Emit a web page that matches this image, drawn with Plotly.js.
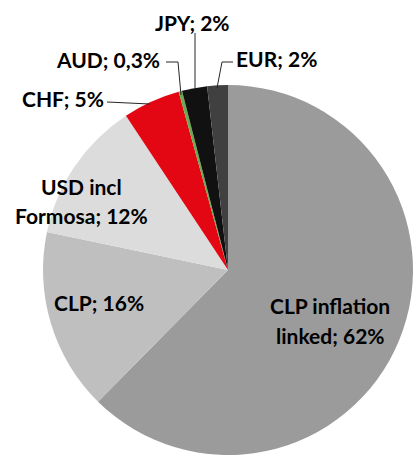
<!DOCTYPE html>
<html>
<head>
<meta charset="utf-8">
<script src="https://cdn.plot.ly/plotly-3.0.1.min.js"></script>
<style>html,body{margin:0;padding:0;background:#fff;}#chart{width:413px;height:456px;}</style>
</head>
<body>
<div id="chart"></div>
<script>
// Data (clockwise from 12 o'clock)
var currencies = ['CLP inflation linked', 'CLP', 'USD incl Formosa', 'CHF', 'AUD', 'JPY', 'EUR'];
var shares = [62.4, 15.9, 12.4, 5.0, 0.3, 2.2, 1.8];
var sliceColors = ['#9b9b9b', '#bfbfbf', '#dcdcdc', '#e30613', '#6aaa50', '#111111', '#404040'];

// Layout helpers (pixel positions of labels, not data)
var W = 413, H = 456;
function px(x) { return x / W; }
function py(y) { return 1 - y / H; }

function pctText(v) {
  if (v < 1) return v.toFixed(1).replace('.', ',') + '%';
  return Math.round(v) + '%';
}
function labelLines(name, v) {
  var words = name.split(' ');
  var full = name + '; ' + pctText(v);
  if (words.length >= 3) {
    var last = words.pop();
    return [words.join(' '), last + '; ' + pctText(v)];
  }
  return [full];
}

// label centre positions (pixels) per slice, and leader line paths
var labelPos = [
  {x: 330, y: [305, 335]},
  {x: 99, y: [302]},
  {x: 81, y: [186, 215]},
  {x: 63, y: [99]},
  {x: 108, y: [60]},
  {x: 192, y: [22]},
  {x: 276, y: [58]}
];
var leaders = [
  null, null, null,
  [[107, 102], [150, 104]],
  [[166, 62], [178, 62], [181, 95]],
  [[195, 33], [195, 89]],
  [[233, 62], [222, 62], [217, 88]]
];

var annotations = [];
var shapes = [];
currencies.forEach(function (c, i) {
  var lines = labelLines(c, shares[i]);
  lines.forEach(function (t, k) {
    annotations.push({
      xref: 'paper', yref: 'paper',
      x: px(labelPos[i].x), y: py(labelPos[i].y[k]),
      xanchor: 'center', yanchor: 'middle',
      text: t, showarrow: false,
      font: {family: 'Lato, "Open Sans", sans-serif', size: 21, color: '#000000', weight: 'bold'}
    });
  });
  if (leaders[i]) {
    var p = leaders[i].map(function (pt, j) {
      return (j === 0 ? 'M ' : 'L ') + px(pt[0]) + ' ' + py(pt[1]);
    }).join(' ');
    shapes.push({type: 'path', xref: 'paper', yref: 'paper', path: p,
      line: {color: '#262626', width: 1}});
  }
});

var trace = {
  type: 'pie',
  labels: currencies,
  values: shares,
  sort: false,
  direction: 'clockwise',
  rotation: 0,
  textinfo: 'none',
  hoverinfo: 'label+percent',
  marker: {colors: sliceColors, line: {color: '#ffffff', width: 0}},
  domain: {x: [43 / W, 1], y: [1 / H, 371 / H]}
};

var layout = {
  width: W, height: H,
  margin: {l: 0, r: 0, t: 0, b: 0},
  showlegend: false,
  paper_bgcolor: '#ffffff',
  annotations: annotations,
  shapes: shapes
};

Plotly.newPlot('chart', [trace], layout, {displayModeBar: false, staticPlot: true});
</script>
</body>
</html>
